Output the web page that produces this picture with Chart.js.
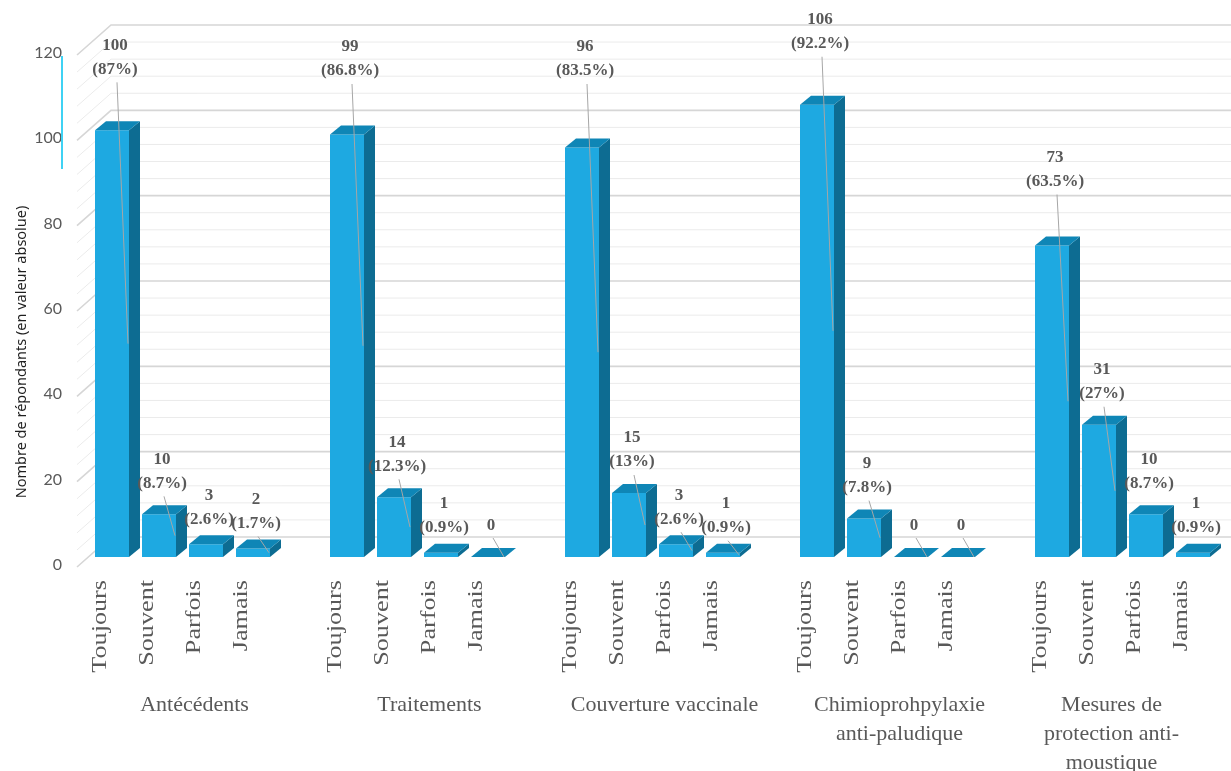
<!DOCTYPE html>
<html>
<head>
<meta charset="utf-8">
<script src="https://cdn.jsdelivr.net/npm/chart.js@4.4.1/dist/chart.umd.min.js"></script>
<style>
  html, body { margin: 0; padding: 0; background: #ffffff; overflow: hidden; }
  #wrap { width: 1231px; height: 771px; position: relative; }
</style>
</head>
<body>
<div id="wrap"><canvas id="chart"></canvas></div>
<script>
// Response frequencies shown under every bar
const frequencies = ['Toujours', 'Souvent', 'Parfois', 'Jamais'];

// Domain names (one entry per text line)
const domains = [
  ['Antécédents'],
  ['Traitements'],
  ['Couverture vaccinale'],
  ['Chimioprohpylaxie', 'anti-paludique'],
  ['Mesures de', 'protection anti-', 'moustique']
];

// Number of respondents per frequency
const antecedents       = [100, 10, 3, 2];
const traitements       = [99, 14, 1, 0];
const couverture        = [96, 15, 3, 1];
const chimioprophylaxie = [106, 9, 0, 0];
const mesuresProtection = [73, 31, 10, 1];

// Share of respondents (%)
const antecedentsPct       = [87, 8.7, 2.6, 1.7];
const traitementsPct       = [86.8, 12.3, 0.9, 0];
const couverturePct        = [83.5, 13, 2.6, 0.9];
const chimioprophylaxiePct = [92.2, 7.8, 0, 0];
const mesuresProtectionPct = [63.5, 27, 8.7, 0.9];

// Value axis
const yMin = 0;
const yMax = 120;
const yStep = 20;
const yMinorStep = 4;

const counts = [antecedents, traitements, couverture, chimioprophylaxie, mesuresProtection];
const pcts = [antecedentsPct, traitementsPct, couverturePct, chimioprophylaxiePct, mesuresProtectionPct];

// Flatten the domains onto one category axis, with an empty slot between domains
const labels = [], values = [], shares = [], groupOf = [], freqOf = [];
counts.forEach((g, gi) => {
  if (gi > 0) { labels.push(''); values.push(null); shares.push(null); groupOf.push(-1); freqOf.push(-1); }
  g.forEach((v, i) => {
    labels.push(frequencies[i]);
    values.push(v);
    shares.push(pcts[gi][i]);
    groupOf.push(gi);
    freqOf.push(i);
  });
});

// Labels that keep a leader line to their bar
const leaderShown = [
  [true, true, false, true],
  [true, true, false, true],
  [true, true, true, true],
  [true, true, true, true],
  [true, true, false, false]
];

const DEPTH_X = 11, DEPTH_Y = 9;            // bar depth
const WALL_FRONT_X = 77, WALL_BACK_X = 111; // side wall edges
const WALL_FRONT_DROP = 10, WALL_BACK_RISE = 20;
const COLORS = { front: '#1ea9e1', top: '#0f86b6', side: '#0d6c92', text: '#595959', leader: '#a6a6a6' };

const threeD = {
  id: 'threeD',
  beforeDatasetsDraw(chart) {
    const ctx = chart.ctx, ys = chart.scales.y;
    ctx.save();
    for (let v = yMin; v <= yMax; v += yMinorStep) {
      const major = v % yStep === 0;
      const p = ys.getPixelForValue(v);
      const yf = p + WALL_FRONT_DROP, yb = p - WALL_BACK_RISE;
      ctx.strokeStyle = major ? '#d6d6d6' : '#ebebeb';
      ctx.lineWidth = major ? 1.6 : 1;
      ctx.beginPath();
      ctx.moveTo(WALL_FRONT_X, yf);
      ctx.lineTo(WALL_BACK_X, yb);
      ctx.lineTo(chart.width, yb);
      ctx.stroke();
    }
    ctx.restore();
  },
  afterDatasetsDraw(chart) {
    const ctx = chart.ctx, ys = chart.scales.y;
    const meta = chart.getDatasetMeta(0);
    ctx.save();
    // side and top faces
    meta.data.forEach((bar, i) => {
      if (values[i] === null) return;
      const { x, y, base, width } = bar.getProps(['x', 'y', 'base', 'width'], true);
      const l = x - width / 2, r = x + width / 2;
      ctx.fillStyle = COLORS.side;
      ctx.beginPath();
      ctx.moveTo(r, y); ctx.lineTo(r + DEPTH_X, y - DEPTH_Y);
      ctx.lineTo(r + DEPTH_X, base - DEPTH_Y); ctx.lineTo(r, base);
      ctx.closePath(); ctx.fill();
      ctx.fillStyle = COLORS.top;
      ctx.beginPath();
      ctx.moveTo(l, y); ctx.lineTo(l + DEPTH_X, y - DEPTH_Y);
      ctx.lineTo(r + DEPTH_X, y - DEPTH_Y); ctx.lineTo(r, y);
      ctx.closePath(); ctx.fill();
    });
    // value labels with leader lines
    meta.data.forEach((bar, i) => {
      const v = values[i];
      if (v === null) return;
      const { x, width } = bar.getProps(['x', 'width'], true);
      const top = ys.getPixelForValue(v);
      const lx = x + 3;
      let y1;
      if (v === 0) y1 = ys.getPixelForValue(0) - 31;
      else if (v >= 90) y1 = Math.min(top - 85, 47);
      else if (v >= 50) y1 = top - 88;
      else if (v >= 5) y1 = top - 55;
      else y1 = top - 49;
      const y2 = y1 + 24;
      if (leaderShown[groupOf[i]][freqOf[i]]) {
        const sy = v === 0 ? y1 + 12 : y2 + 13;
        ctx.strokeStyle = COLORS.leader;
        ctx.lineWidth = 1;
        ctx.beginPath();
        ctx.moveTo(lx + 2, sy);
        ctx.lineTo(x + width / 2 - 1, ys.getPixelForValue(v / 2));
        ctx.stroke();
      }
      ctx.fillStyle = COLORS.text;
      ctx.font = 'bold 17px "Liberation Serif"';
      ctx.textAlign = 'center';
      ctx.textBaseline = 'middle';
      ctx.fillText(String(v), lx, y1);
      if (v !== 0) ctx.fillText('(' + shares[i] + '%)', lx, y2);
    });
    ctx.restore();
  },
  afterDraw(chart) {
    const ctx = chart.ctx, xs = chart.scales.x;
    ctx.save();
    ctx.fillStyle = COLORS.text;
    // frequency names, rotated, under each bar
    ctx.font = '22px "Liberation Serif"';
    ctx.textAlign = 'right';
    ctx.textBaseline = 'middle';
    labels.forEach((t, i) => {
      if (!t) return;
      ctx.save();
      ctx.translate(xs.getPixelForValue(i) - 12, 580);
      ctx.rotate(-Math.PI / 2);
      ctx.scale(1.19, 1);
      ctx.fillText(t, 0, 0);
      ctx.restore();
    });
    // domain names under each group of bars
    const shift = [12, 12, 12, 12, -11];
    ctx.textAlign = 'center';
    ctx.textBaseline = 'alphabetic';
    domains.forEach((lines, gi) => {
      const first = gi * 5, last = gi * 5 + 3;
      const cx = (xs.getPixelForValue(first) + xs.getPixelForValue(last)) / 2 + shift[gi];
      lines.forEach((t, k) => ctx.fillText(t, cx, 711 + k * 29));
    });
    // value axis title
    ctx.translate(22, 352);
    ctx.rotate(-Math.PI / 2);
    ctx.fillStyle = '#1f1f1f';
    ctx.font = '14.5px "Noto Sans"';
    ctx.textAlign = 'center';
    ctx.textBaseline = 'middle';
    ctx.fillText('Nombre de répondants (en valeur absolue)', 0, 0);
    ctx.restore();
    // axis marker
    ctx.save();
    ctx.strokeStyle = '#3fd2f4';
    ctx.lineWidth = 2;
    ctx.beginPath();
    ctx.moveTo(62, 56); ctx.lineTo(62, 169);
    ctx.stroke();
    ctx.restore();
  }
};

new Chart(document.getElementById('chart'), {
  type: 'bar',
  data: {
    labels: labels,
    datasets: [{
      data: values,
      backgroundColor: COLORS.front,
      borderWidth: 0,
      barPercentage: 34 / 47,
      categoryPercentage: 1
    }]
  },
  options: {
    responsive: true,
    maintainAspectRatio: false,
    animation: false,
    layout: { padding: { left: 0, right: 14.5, top: 45, bottom: 0 } },
    plugins: { legend: { display: false }, tooltip: { enabled: false }, title: { display: false } },
    scales: {
      x: {
        grid: { display: false, drawTicks: false },
        border: { display: false },
        ticks: { display: false, autoSkip: false },
        afterFit(scale) {
          scale.height = 214;
          scale.paddingLeft = 0;
          scale.paddingRight = 0;
        }
      },
      y: {
        min: yMin,
        max: yMax,
        grid: { display: false, drawTicks: false },
        border: { display: false },
        ticks: {
          stepSize: yStep,
          padding: 26.5,
          labelOffset: 8,
          color: COLORS.text,
          font: { family: 'Lato', size: 16 }
        },
        afterFit(scale) { scale.width = 88.5; }
      }
    }
  },
  plugins: [threeD]
});
</script>
</body>
</html>
